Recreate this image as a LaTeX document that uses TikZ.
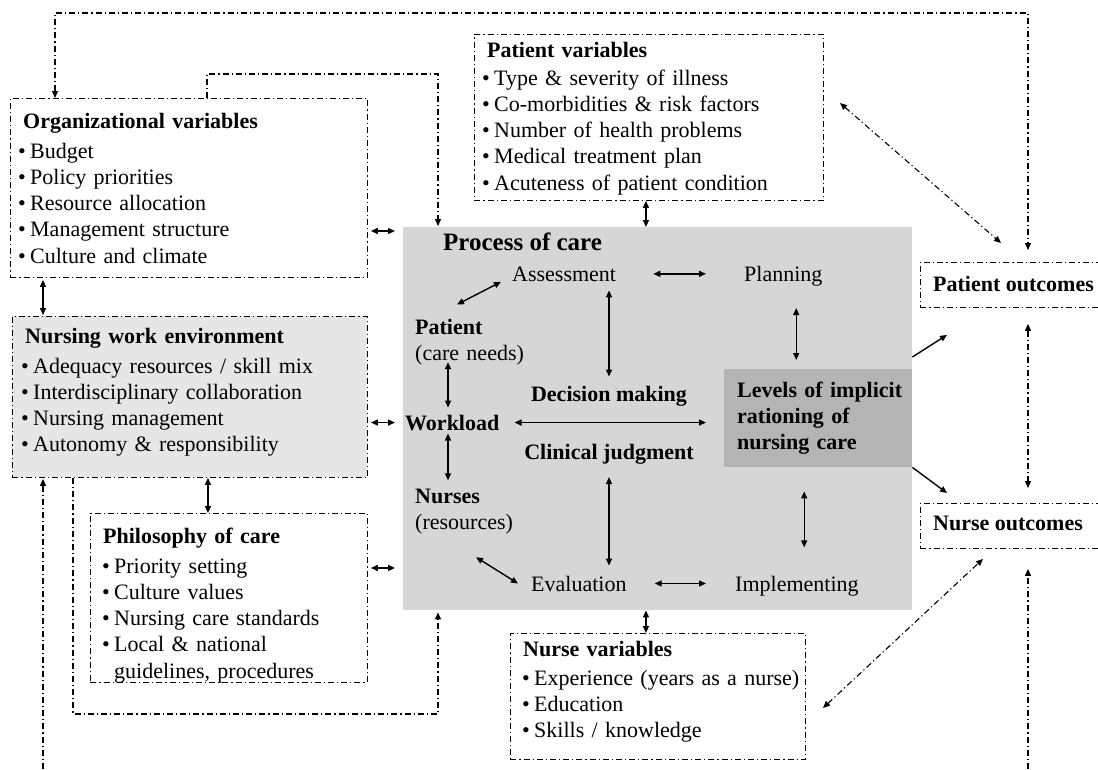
\documentclass[tikz,border=0pt]{standalone}
\usepackage{fontspec}
\setmainfont{Liberation Serif}
\usetikzlibrary{arrows.meta,positioning}

\definecolor{procgray}{HTML}{D6D6D6}
\definecolor{envgray}{HTML}{E6E6E6}
\definecolor{lvlgray}{HTML}{B4B4B4}
\newcommand{\bodyfont}{\fontsize{22}{26.3}\selectfont}
\newcommand{\itm}{\textbullet\hspace{4.3pt}}
\newcommand{\itmgap}{\phantom{\textbullet}\hspace{4.3pt}}

\begin{document}
\begin{tikzpicture}[
	x=1pt, y=-1pt,
	font=\bodyfont,
	>={Triangle[length=7pt,width=6pt]},
	dashdot/.style={dash pattern=on 6pt off 3pt on 1.2pt off 3pt},
	varbox/.style={draw, dashdot, line width=0.9pt, inner sep=0pt, anchor=north west},
	shadebox/.style={fill=#1, inner sep=0pt, anchor=north west},
	lbl/.style={inner sep=0pt, anchor=base west},
	blbl/.style={lbl, font=\bodyfont\bfseries},
	listtext/.style={lbl, text width=#1, align=left},
	arr/.style={line width=1.4pt},
	darr/.style={dashdot, line width=1.1pt},
	]
	\useasboundingbox (0,0) rectangle (1098,769);
	\clip (0,0) rectangle (1098,769);

	%Boxes
	\node[shadebox=procgray, minimum width=509pt, minimum height=383pt] (proc) at (403,227) {};
	\node[shadebox=lvlgray, minimum width=188pt, minimum height=98pt]   (lvlbox) at (724,369) {};
	\node[varbox, minimum width=357pt, minimum height=179pt] (orgbox) at (10,98) {};
	\node[varbox, minimum width=349pt, minimum height=166pt] (pvbox) at (474,34) {};
	\node[varbox, fill=envgray, minimum width=355pt, minimum height=161pt] (nwebox) at (12,316) {};
	\node[varbox, minimum width=277pt, minimum height=169pt] (philbox) at (90,513) {};
	\node[varbox, minimum width=295pt, minimum height=126pt] (nvbox) at (510,633) {};
	\node[varbox, minimum width=220pt, minimum height=45pt]  (pobox) at (920,262) {};
	\node[varbox, minimum width=220pt, minimum height=45pt]  (nobox) at (920,503) {};

	%Box texts
	\node[listtext=345pt] (orgtxt) at (18,128) {\hspace*{5pt}\textbf{Organizational variables}\\[3.7pt]
		\itm Budget\\ \itm Policy priorities\\ \itm Resource allocation\\ \itm Management structure\\ \itm Culture and climate};
	\node[listtext=335pt] (pvtxt) at (482,57) {\hspace*{5pt}\textbf{Patient variables}\\[1.7pt]
		\itm Type \& severity of illness\\ \itm Co-morbidities \& risk factors\\ \itm Number of health problems\\ \itm Medical treatment plan\\ \itm Acuteness of patient condition};
	\node[listtext=340pt] (nwetxt) at (21,343) {\hspace*{4pt}\textbf{Nursing work environment}\\[3.7pt]
		\itm Adequacy resources / skill mix\\ \itm Interdisciplinary collaboration\\ \itm Nursing management\\ \itm Autonomy \& responsibility};
	\node[listtext=260pt] (philtxt) at (102,543) {\hspace*{1pt}\textbf{Philosophy of care}\\[3.7pt]
		\itm Priority setting\\ \itm Culture values\\ \itm Nursing care standards\\ \itm Local \& national\\ \itmgap guidelines, procedures};
	\node[listtext=280pt] (nvtxt) at (522,656) {\hspace*{1pt}\textbf{Nurse variables}\\[2.7pt]
		\itm Experience (years as a nurse)\\ \itm Education\\ \itm Skills / knowledge};
	\node[blbl] (potxt) at (933,291) {Patient outcomes};
	\node[blbl] (notxt) at (933,530) {Nurse outcomes};

	%Process of care
	\node[lbl, font=\fontsize{25}{30}\selectfont\bfseries] (proctitle) at (443,250) {Process of care};
	\node[lbl] (assess) at (512,281) {Assessment};
	\node[lbl] (plan) at (744,281) {Planning};
	\node[listtext=130pt] (patient) at (415,334) {\textbf{Patient}\\(care needs)};
	\node[blbl] (workload) at (405,430) {Workload};
	\node[listtext=130pt] (nurses) at (415,503) {\textbf{Nurses}\\(resources)};
	\node[blbl, anchor=base] (decision) at (609,401) {Decision making};
	\node[blbl, anchor=base] (clinical) at (609,459) {Clinical judgment};
	\node[lbl] (evalu) at (531,591) {Evaluation};
	\node[lbl] (implem) at (735,591) {Implementing};
	\node[listtext=175pt, font=\bodyfont\bfseries] (lvltxt) at (737,397) {Levels of implicit\\ rationing of\\ nursing care};

	%Loop corners
	\coordinate (topleft) at (55,13);
	\coordinate (topright) at (1028,13);
	\coordinate (orgup) at (207,74);
	\coordinate (procin) at (438,74);
	\coordinate (botleft) at (73,714);
	\coordinate (botright) at (438,714);
	\coordinate (leftfoot) at (43,769);
	\coordinate (rightfoot) at (1028,769);
	\coordinate (pvdiag) at (840,103);
	\coordinate (nvdiag) at (823,708);

	%Dash-dot lines
	\draw[darr, <->] (orgbox.north -| topleft) -- (topleft) -- (topright) -- ([yshift=12pt]pobox.north -| topright);
	\draw[darr, ->] (orgbox.north -| orgup) -- (orgup) -- (procin) -- ([yshift=1pt]proc.north -| procin);
	\draw[darr, ->] (nwebox.south -| botleft) -- (botleft) -- (botright) -- ([yshift=-2pt]proc.south -| botright);
	\draw[darr, ->] (leftfoot) -- ([yshift=-1pt]nwebox.south -| leftfoot);
	\draw[darr, ->] (rightfoot) -- ([yshift=-20pt]nobox.south -| rightfoot);
	\draw[darr, <->] ([yshift=-16pt]pobox.south -| rightfoot) -- ([yshift=15pt]nobox.north -| rightfoot);
	\draw[darr, <->] (pvdiag) -- ([xshift=81pt,yshift=19pt]pobox.north west);
	\draw[darr, <->] (nvdiag) -- ([xshift=63pt,yshift=-10pt]nobox.south west);

	%Box to box arrows
	\draw[arr, <->] ([xshift=-3pt]pvbox.south) -- ([xshift=-3pt]pvbox.south |- proc.north);
	\draw[arr, <->] ([xshift=-12pt]nvbox.north) -- ([xshift=-12pt]nvbox.north |- proc.south);
	\draw[arr, <->] ([xshift=3pt,yshift=-4pt]orgbox.east |- proc.north) -- ([xshift=-8pt,yshift=-4pt]proc.north west);
	\draw[arr, <->] ([xshift=3pt]nwebox.east |- workload.west) -- ([xshift=-10pt]workload.west);
	\draw[arr, <->] ([xshift=3pt,yshift=30pt]philbox.east) -- ([xshift=-8pt,yshift=30pt]philbox.east -| proc.west);
	\draw[arr, <->] ([yshift=-2pt]orgbox.south -| leftfoot) -- ([yshift=1pt]nwebox.north -| leftfoot);
	\draw[arr, <->] ([xshift=-21pt]philbox.north |- nwebox.south) -- ([xshift=-21pt]philbox.north);
	\draw[arr, ->] ([yshift=12pt]lvlbox.north east) -- ([xshift=27pt,yshift=-27pt]pobox.south west);
	\draw[arr, ->] (lvlbox.south east) -- ([xshift=27pt,yshift=10pt]nobox.north west);

	%Arrows inside the process
	\draw[arr, <->] ([xshift=42pt,yshift=14pt]patient.north west) -- ([xshift=-11pt,yshift=-8pt]assess.west);
	\draw[arr, <->] ([xshift=37pt]assess.east) -- ([xshift=-38pt]assess.east -| plan.west);
	\draw[arr, <->] ([yshift=-9pt]assess.south -| decision.north) -- ([yshift=9pt]decision.north);
	\draw[arr, <->] ([xshift=-22pt,yshift=61pt]lvlbox.north) -- ([xshift=-22pt,yshift=9pt]lvlbox.north);
	\draw[arr, <->] ([xshift=33pt,yshift=3pt]patient.south west) -- ([xshift=43pt,yshift=7pt]workload.north west);
	\draw[arr, <->] ([xshift=15pt]workload.east) -- ([xshift=-18pt]workload.east -| lvlbox.west);
	\draw[arr, <->] ([xshift=43pt,yshift=-3pt]workload.south west) -- ([xshift=33pt,yshift=8pt]nurses.north west);
	\draw[arr, <->] ([yshift=-13pt]clinical.south) -- ([yshift=10pt]evalu.north -| clinical.south);
	\draw[arr, <->] ([xshift=-14pt,yshift=-24pt]lvlbox.south) -- ([xshift=-14pt,yshift=-80pt]lvlbox.south);
	\draw[arr, <->] ([xshift=61pt,yshift=-23pt]nurses.south west) -- ([xshift=-13pt]evalu.west);
	\draw[arr, <->] ([xshift=28pt]evalu.east) -- ([xshift=-29pt]evalu.east -| implem.west);
\end{tikzpicture}
\end{document}
